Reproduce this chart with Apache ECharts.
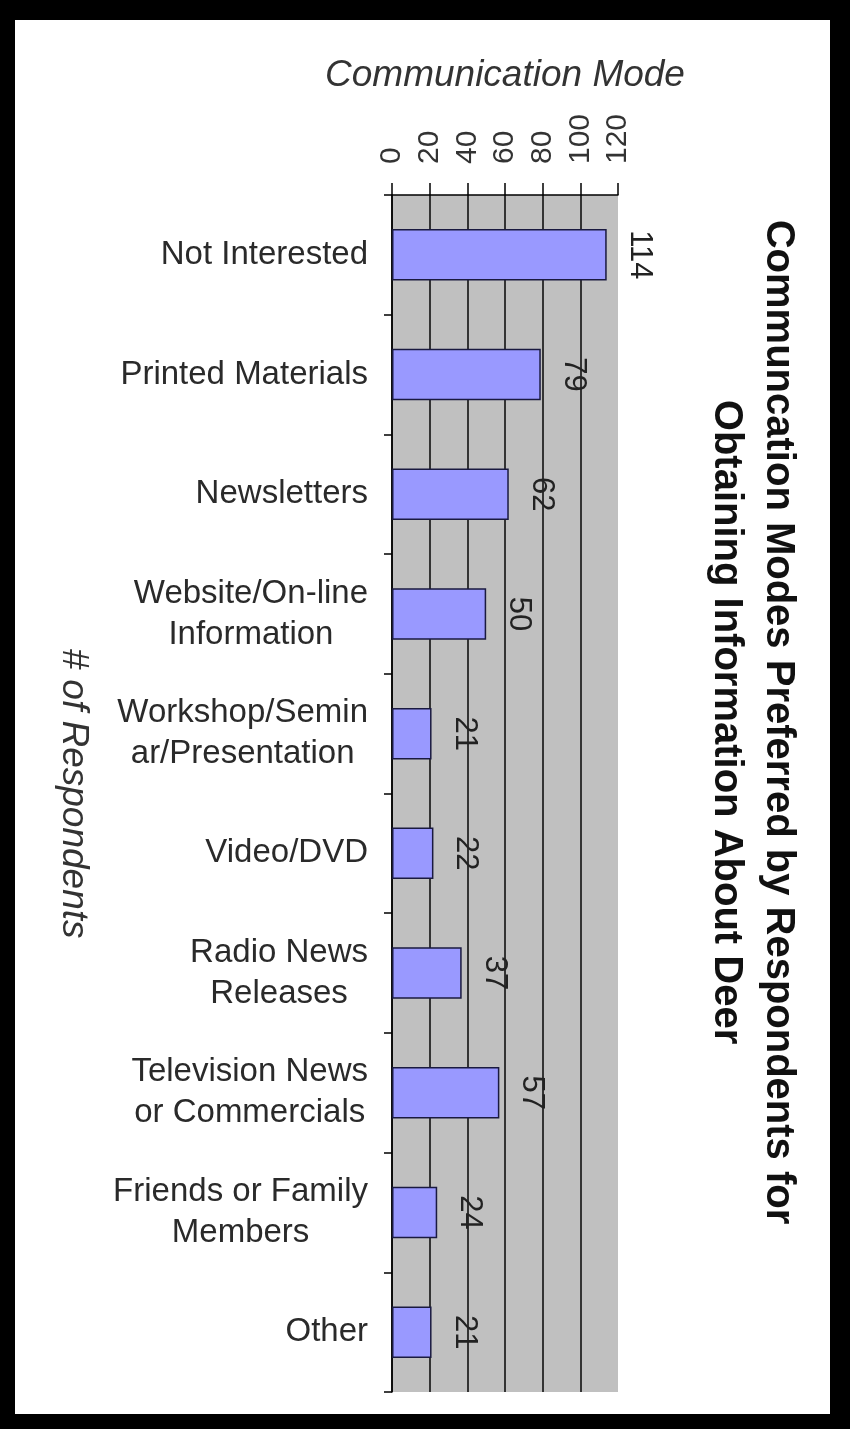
<!DOCTYPE html>
<html>
<head>
<meta charset="utf-8">
<title>Communication Modes</title>
<script src="https://cdn.jsdelivr.net/npm/echarts/dist/echarts.min.js"></script>
<style>
  html, body { margin: 0; padding: 0; background: #000; }
  #paper { position: absolute; left: 15px; top: 20px; width: 815px; height: 1394px; background: #fff; }
  #chart { position: absolute; left: 0; top: 0; width: 850px; height: 1429px; }
</style>
</head>
<body>
<div id="paper"></div>
<div id="chart"></div>
<script>
// data
const categories = [
  'Not Interested',
  'Printed Materials',
  'Newsletters',
  'Website/On-line\nInformation',
  'Workshop/Semin\nar/Presentation',
  'Video/DVD',
  'Radio News\nReleases',
  'Television News\nor Commercials',
  'Friends or Family\nMembers',
  'Other'
];
const respondents = [114, 79, 62, 50, 21, 22, 37, 57, 24, 21];
const valueTicks = [0, 20, 40, 60, 80, 100, 120];

const titleText = 'Communcation Modes Preferred by Respondents for\nObtaining Information About Deer';
const font = 'Liberation Sans, Arial, sans-serif';

const chart = echarts.init(document.getElementById('chart'), null, { renderer: 'canvas' });

const option = {
  animation: false,
  grid: {
    left: 392,
    right: 232,
    top: 195,
    bottom: 37,
    show: true,
    backgroundColor: '#c0c0c0',
    borderWidth: 0,
    containLabel: false,
    outerBoundsMode: 'none'
  },
  xAxis: {
    type: 'value',
    position: 'top',
    min: valueTicks[0],
    max: valueTicks[valueTicks.length - 1],
    interval: valueTicks[1] - valueTicks[0],
    name: 'Communication Mode',
    nameLocation: 'middle',
    nameGap: 101,
    nameMoveOverlap: false,
    nameTextStyle: { fontFamily: font, fontStyle: 'italic', fontSize: 37, color: '#333' },
    axisLine: { show: true, lineStyle: { color: '#000', width: 1.5 } },
    axisTick: { show: true, length: 12, lineStyle: { color: '#000', width: 1.5 } },
    axisLabel: {
      rotate: -90,
      margin: 31,
      fontFamily: font,
      fontSize: 30,
      color: '#333'
    },
    splitLine: { show: true, showMaxLine: false, lineStyle: { color: '#111', width: 1.6 } }
  },
  yAxis: {
    type: 'category',
    inverse: true,
    data: categories,
    name: '# of Respondents',
    nameLocation: 'middle',
    nameRotate: -90,
    nameGap: 300,
    nameMoveOverlap: false,
    nameTextStyle: { fontFamily: font, fontStyle: 'italic', fontSize: 37, color: '#333' },
    axisLine: { show: true, lineStyle: { color: '#000', width: 1.5 } },
    axisTick: { show: true, length: 8, lineStyle: { color: '#000', width: 1.5 } },
    axisLabel: {
      interval: 0,
      margin: 24,
      fontFamily: font,
      fontSize: 33,
      lineHeight: 41,
      color: '#2a2a2a',
      formatter: function (v) {
        return v.split('\n').map(function (l) { return '{c|' + l + '}'; }).join('\n');
      },
      rich: {
        c: { align: 'center', fontFamily: font, fontSize: 33, lineHeight: 41, color: '#2a2a2a' }
      }
    },
    splitLine: { show: false }
  },
  series: [{
    type: 'bar',
    data: respondents,
    barCategoryGap: '57%',
    itemStyle: { color: '#9999ff', borderColor: '#1a1a40', borderWidth: 1.5 },
    label: {
      show: true,
      position: 'right',
      rotate: -90,
      align: 'center',
      verticalAlign: 'bottom',
      distance: 17,
      fontFamily: font,
      fontSize: 31,
      color: '#222'
    }
  }],
  graphic: [{
    type: 'text',
    x: 752,
    y: 722,
    rotation: -Math.PI / 2,
    style: {
      text: titleText,
      fontFamily: font,
      fontWeight: 'bold',
      fontSize: 40,
      lineHeight: 52,
      fill: '#111',
      align: 'center',
      verticalAlign: 'middle'
    }
  }]
};

chart.setOption(option);
</script>
</body>
</html>
